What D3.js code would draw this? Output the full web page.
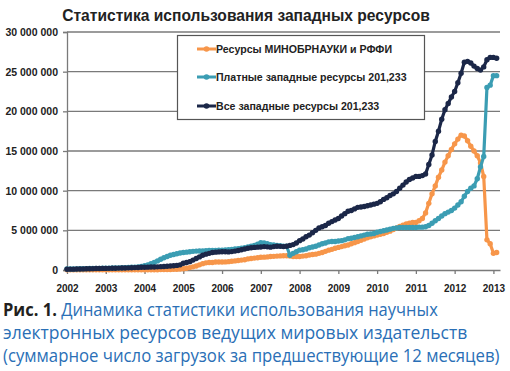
<!DOCTYPE html>
<html lang="ru">
<head>
<meta charset="UTF-8">
<title>Статистика использования западных ресурсов</title>
<script src="https://d3js.org/d3.v7.min.js"></script>
<style>
  body { margin: 0; background: #fff; }
  svg { display: block; }
  .axis text { font-family: Arial, "Liberation Sans", sans-serif; font-weight: bold; fill: #222; }
  .axis path, .axis line { stroke: #7a7a7a; }
</style>
</head>
<body>
<div id="chart"></div>
<script>
// значения помесячно, с января 2002 по февраль 2013 (млн загрузок)
const startYear = 2002;
const yearLabels = [2002, 2003, 2004, 2005, 2006, 2007, 2008, 2009, 2010, 2011, 2012, 2013];
const yTickValues = [0, 5e6, 10e6, 15e6, 20e6, 25e6, 30e6];
const seriesNames = [
  "Ресурсы МИНОБРНАУКИ и РФФИ",
  "Платные западные ресурсы 201,233",
  "Все западные ресурсы 201,233"
];
const seriesColors = ["#f7964a", "#3b9db3", "#1b2748"];

const ministryValues = [
  0.02,0.02,0.02,0.02,0.02,0.02,0.02,0.02,0.02,0.02,0.02,0.02,
  0.02,0.02,0.02,0.02,0.02,0.02,0.03,0.03,0.03,0.03,0.03,0.03,
  0.03,0.03,0.03,0.04,0.04,0.05,0.05,0.06,0.07,0.08,0.10,0.12,
  0.15,0.22,0.30,0.40,0.50,0.65,0.80,0.90,0.95,0.95,1.00,1.00,
  1.00,1.02,1.05,1.10,1.15,1.20,1.25,1.30,1.40,1.45,1.50,1.55,
  1.60,1.62,1.65,1.70,1.72,1.75,1.78,1.80,1.80,1.75,1.70,1.70,
  1.70,1.75,1.80,1.90,1.95,2.00,2.10,2.20,2.35,2.50,2.60,2.75,
  2.85,2.95,3.05,3.15,3.30,3.45,3.60,3.75,3.90,4.05,4.20,4.30,
  4.40,4.50,4.60,4.75,4.90,5.10,5.30,5.50,5.65,5.80,5.90,6.00,
  6.00,6.20,6.50,7.20,8.40,9.60,10.60,11.70,12.60,13.60,14.40,15.20,
  15.90,16.50,17.00,16.90,16.30,15.60,15.00,14.40,13.50,11.80,3.80,3.30,
  2.10,2.20
];
const paidValues = [
  0.12,0.12,0.13,0.14,0.15,0.16,0.17,0.18,0.19,0.20,0.21,0.22,
  0.23,0.24,0.25,0.26,0.27,0.28,0.30,0.32,0.34,0.36,0.38,0.45,
  0.55,0.65,0.80,0.95,1.15,1.35,1.55,1.70,1.85,1.95,2.05,2.15,
  2.20,2.25,2.30,2.35,2.38,2.40,2.40,2.42,2.45,2.45,2.48,2.50,
  2.50,2.52,2.55,2.60,2.65,2.70,2.75,2.80,2.90,3.00,3.10,3.25,
  3.45,3.40,3.30,3.20,3.15,3.10,3.05,3.00,3.00,1.85,2.10,2.30,
  2.50,2.55,2.65,2.80,2.90,3.00,3.15,3.30,3.40,3.55,3.60,3.60,
  3.65,3.70,3.80,3.95,4.00,4.10,4.20,4.30,4.40,4.50,4.55,4.60,
  4.75,4.85,4.95,5.05,5.15,5.25,5.30,5.35,5.35,5.35,5.35,5.35,
  5.35,5.40,5.40,5.45,5.60,5.90,6.20,6.50,6.80,7.10,7.30,7.50,
  7.80,8.20,8.60,9.30,9.90,10.30,10.60,11.50,13.00,14.30,23.00,23.30,
  24.50,24.50
];
const allValues = [
  0.10,0.11,0.11,0.12,0.13,0.14,0.15,0.16,0.17,0.18,0.19,0.20,
  0.20,0.21,0.22,0.23,0.24,0.25,0.26,0.27,0.29,0.30,0.32,0.34,
  0.35,0.36,0.37,0.38,0.40,0.42,0.44,0.47,0.50,0.54,0.58,0.65,
  0.85,0.95,1.05,1.25,1.45,1.65,1.85,2.00,2.10,2.20,2.25,2.28,
  2.30,2.30,2.28,2.32,2.38,2.45,2.55,2.65,2.75,2.80,2.85,2.88,
  2.90,2.95,2.92,2.88,2.95,3.00,2.98,2.95,3.00,3.10,3.20,3.40,
  3.70,3.90,4.20,4.40,4.70,5.00,5.30,5.45,5.60,5.90,6.10,6.30,
  6.50,6.80,7.10,7.40,7.50,7.70,7.90,7.95,8.00,8.10,8.20,8.30,
  8.40,8.60,8.90,9.10,9.40,9.60,9.90,10.30,10.70,11.10,11.40,11.60,
  11.80,11.80,11.90,12.10,13.30,14.50,16.20,17.50,19.00,20.20,21.00,21.80,
  22.50,23.60,24.80,26.20,26.30,26.10,25.70,25.40,25.20,25.60,26.50,26.80,
  26.80,26.70
];

const captionLines = [
  { bold: "Рис. 1. ", text: "Динамика статистики использования научных", width: 435 },
  { bold: "", text: "электронных ресурсов ведущих мировых издательств", width: 483 },
  { bold: "", text: "(суммарное число загрузок за предшествующие 12 месяцев)", width: 497 }
];

const width = 510, height = 371;
const plotLeft = 67, plotRight = 500, plotTop = 32, plotBottom = 270;

const svg = d3.select("#chart").append("svg")
  .attr("width", width)
  .attr("height", height);

const x = d3.scaleLinear().domain([2002, 2013.17]).range([plotLeft, plotRight]);
const y = d3.scaleLinear().domain([0, 30e6]).range([plotBottom, plotTop]);

// заголовок
svg.append("text")
  .attr("x", 246).attr("y", 21)
  .attr("text-anchor", "middle")
  .style("font-family", "Arial, 'Liberation Sans', sans-serif")
  .style("font-weight", "bold")
  .style("font-size", "15.6px")
  .attr("fill", "#222")
  .text("Статистика использования западных ресурсов");

// сетка
svg.append("g")
  .selectAll("line")
  .data(yTickValues.slice(1))
  .join("line")
  .attr("x1", plotLeft).attr("x2", plotRight)
  .attr("y1", d => y(d)).attr("y2", d => y(d))
  .attr("stroke", "#7a7a7a")
  .attr("stroke-width", 1.3);

// ось Y
const fmt = d3.format(",");
svg.append("g")
  .attr("class", "axis")
  .attr("transform", `translate(${plotLeft},0)`)
  .call(d3.axisLeft(y).tickValues(yTickValues).tickSize(4).tickPadding(5)
    .tickFormat(d => fmt(d).replace(/,/g, " ")))
  .call(g => g.selectAll("text").style("font-size", "10.5px"))
  .call(g => g.selectAll("line").attr("stroke-width", 1.3))
  .call(g => g.select(".domain").attr("stroke-width", 1.3));

// ось X
svg.append("g")
  .attr("class", "axis")
  .attr("transform", `translate(0,${plotBottom})`)
  .call(d3.axisBottom(x).tickValues(yearLabels).tickSize(4).tickPadding(11)
    .tickSizeOuter(0).tickFormat(d3.format("d")))
  .call(g => g.selectAll("text").style("font-size", "10px"))
  .call(g => g.selectAll("line").attr("stroke-width", 1.3))
  .call(g => g.select(".domain").attr("stroke-width", 1.3));

// серии
const series = [ministryValues, paidValues, allValues].map((vals, k) => ({
  name: seriesNames[k],
  color: seriesColors[k],
  points: vals.map((v, i) => ({ t: startYear + i / 12, v: v * 1e6 }))
}));

const line = d3.line().x(d => x(d.t)).y(d => y(d.v));

series.forEach(s => {
  const g = svg.append("g");
  g.append("path")
    .datum(s.points)
    .attr("d", line)
    .attr("fill", "none")
    .attr("stroke", s.color)
    .attr("stroke-width", 3.2)
    .attr("stroke-linejoin", "round");
  g.selectAll("circle")
    .data(s.points)
    .join("circle")
    .attr("cx", d => x(d.t))
    .attr("cy", d => y(d.v))
    .attr("r", 2.7)
    .attr("fill", s.color);
});

// легенда
const legend = svg.append("g");
legend.append("rect")
  .attr("x", 177.5).attr("y", 35.5)
  .attr("width", 247).attr("height", 84)
  .attr("fill", "#fff")
  .attr("stroke", "#555")
  .attr("stroke-width", 1.2);

const legendY = [49, 77, 106];
series.forEach((s, k) => {
  const gy = legendY[k];
  legend.append("line")
    .attr("x1", 197).attr("x2", 216)
    .attr("y1", gy).attr("y2", gy)
    .attr("stroke", s.color).attr("stroke-width", 3);
  legend.append("circle")
    .attr("cx", 206.5).attr("cy", gy).attr("r", 2.8)
    .attr("fill", s.color);
  legend.append("text")
    .attr("x", 216).attr("y", gy + 3.8)
    .style("font-family", "Arial, 'Liberation Sans', sans-serif")
    .style("font-weight", "bold")
    .style("font-size", "10.6px")
    .attr("fill", "#222")
    .text(s.name);
});

// подпись к рисунку: каждая строка сжимается по горизонтали до ширины оригинала
const caption = svg.append("g")
  .style("font-family", "'Open Sans', 'Noto Sans', sans-serif")
  .style("font-size", "17.5px");

captionLines.forEach((ln, i) => {
  const t = caption.append("text");
  if (ln.bold) {
    t.append("tspan")
      .style("font-weight", "bold")
      .attr("fill", "#231f20")
      .text(ln.bold);
  }
  t.append("tspan")
    .attr("fill", "#2a6fb6")
    .text(ln.text);
  const natural = t.node().getComputedTextLength();
  const sx = Math.min(1, ln.width / natural);
  t.attr("transform", `translate(3,${315.5 + i * 23.3}) scale(${sx},1)`);
});
</script>
</body>
</html>
